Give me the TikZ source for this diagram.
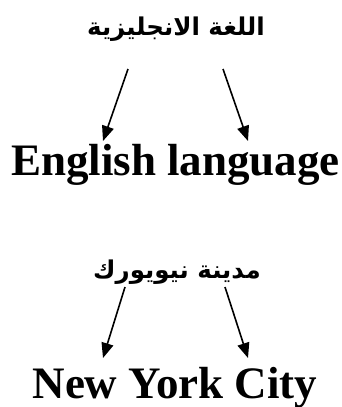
\documentclass[tikz,border=0pt]{standalone}
\usepackage{fontspec}
\setmainfont{Liberation Serif}
\newfontfamily\arabicfont[Script=Arabic]{DejaVu Sans}
\TeXXeTstate=1
\usetikzlibrary{arrows.meta,calc}

\begin{document}
\begin{tikzpicture}[x=1pt,y=-1pt,
  arabic/.style={anchor=base,inner sep=0pt,font=\arabicfont\bfseries\fontsize{24.5}{30}\selectfont},
  english/.style={anchor=base,inner sep=0pt,font=\bfseries\fontsize{45}{50}\selectfont},
  arr/.style={line width=1.6pt,-{Triangle[length=15pt,width=12pt]}}]
\useasboundingbox (0,0) rectangle (342,407);
\node[arabic] (ar1) at (176,35) {\beginR اللغة الانجليزية\endR};
\node[english] (en1) at (175.5,175) {English language};
\node[arabic] (ar2) at (177,278) {\beginR مدينة نيويورك\endR};
\node[english] (en2) at (175,398) {New York City};
\draw[arr] ($(ar1.base)+(-48,34)$)--($(en1.base)+(-72.5,-34)$);
\draw[arr] ($(ar1.base)+(47,34)$)--($(en1.base)+(72.5,-34)$);
\draw[arr] ($(ar2.base)+(-52,9)$)--($(en2.base)+(-72,-40)$);
\draw[arr] ($(ar2.base)+(48,9)$)--($(en2.base)+(73,-40)$);
\end{tikzpicture}
\end{document}
